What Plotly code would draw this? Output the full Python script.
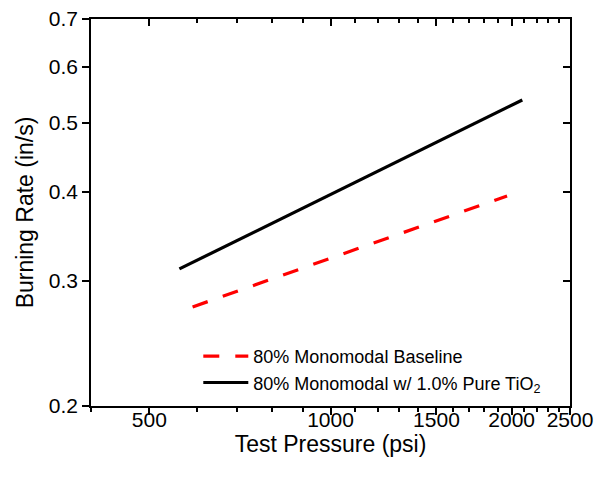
import math
import plotly.graph_objects as go

# ---- data ----
pressure_baseline = [590, 1965]
rate_baseline = [0.2756, 0.3948]
pressure_tio2 = [561, 2083]
rate_tio2 = [0.3117, 0.5386]

x_major = [500, 1000, 1500, 2000, 2500]
x_minor = [400, 600, 700, 800, 900, 1100, 1200, 1300, 1400, 1600, 1700, 1800,
           1900, 2100, 2200, 2300, 2400]
y_ticks = [0.2, 0.3, 0.4, 0.5, 0.6, 0.7]

names = ["80% Monomodal Baseline", "80% Monomodal w/ 1.0% Pure TiO<sub>2</sub>"]

FONT = "Liberation Sans, Arial, sans-serif"
xr = [math.log10(400), math.log10(2500)]
yr = [math.log10(0.2), math.log10(0.7)]

fig = go.Figure()
fig.add_trace(go.Scatter(x=pressure_baseline, y=rate_baseline, mode="lines",
                         name=names[0],
                         line=dict(color="#ff0000", width=3.2, dash="16px,16px")))
fig.add_trace(go.Scatter(x=pressure_tio2, y=rate_tio2, mode="lines",
                         name=names[1],
                         line=dict(color="#000000", width=3.2)))
# empty trace to host the mirror axes
fig.add_trace(go.Scatter(x=[], y=[], xaxis="x2", yaxis="y2", showlegend=False,
                         hoverinfo="skip"))

common = dict(showgrid=False, zeroline=False, showline=True, linecolor="black",
              linewidth=1.5, tickcolor="black", tickwidth=1.5, automargin=False)

fig.update_layout(
    template="none",
    width=598, height=479,
    margin=dict(l=91, r=28, t=19, b=73),
    paper_bgcolor="white", plot_bgcolor="white",
    font=dict(family=FONT, color="black", size=21),
    xaxis=dict(type="log", range=xr, tickmode="array", tickvals=x_major,
               ticktext=[str(v) for v in x_major], ticks="outside", ticklen=7,
               minor=dict(tickmode="array", tickvals=x_minor, ticks="outside",
                          ticklen=4, tickcolor="black", tickwidth=1.5),
               ticklabelstandoff=-13,
               title=dict(text="Test Pressure (psi)", font=dict(size=23), standoff=6),
               tickfont=dict(size=21), **common),
    yaxis=dict(type="log", range=yr, tickmode="array", tickvals=y_ticks,
               ticktext=["0.2", "0.3", "0.4", "0.5", "0.6", "0.7"],
               ticks="outside", ticklen=7,
               title=dict(text="Burning Rate (in/s)", font=dict(size=23), standoff=9),
               tickfont=dict(size=21), **common),
    xaxis2=dict(type="log", range=xr, overlaying="x", side="top", anchor="y",
                tickmode="array", tickvals=x_major, ticks="inside", ticklen=7,
                showticklabels=False,
                minor=dict(tickmode="array", tickvals=x_minor, ticks="inside",
                           ticklen=4, tickcolor="black", tickwidth=1.5),
                **common),
    yaxis2=dict(type="log", range=yr, overlaying="y", side="right", anchor="x",
                tickmode="array", tickvals=y_ticks, ticks="inside", ticklen=7,
                showticklabels=False, **common),
    legend=dict(x=0.224, y=0.176, xanchor="left", yanchor="top",
                bgcolor="rgba(0,0,0,0)", borderwidth=0, itemwidth=45,
                font=dict(size=18, family=FONT), tracegroupgap=0),
    showlegend=True,
)

fig.write_html("out.html")
